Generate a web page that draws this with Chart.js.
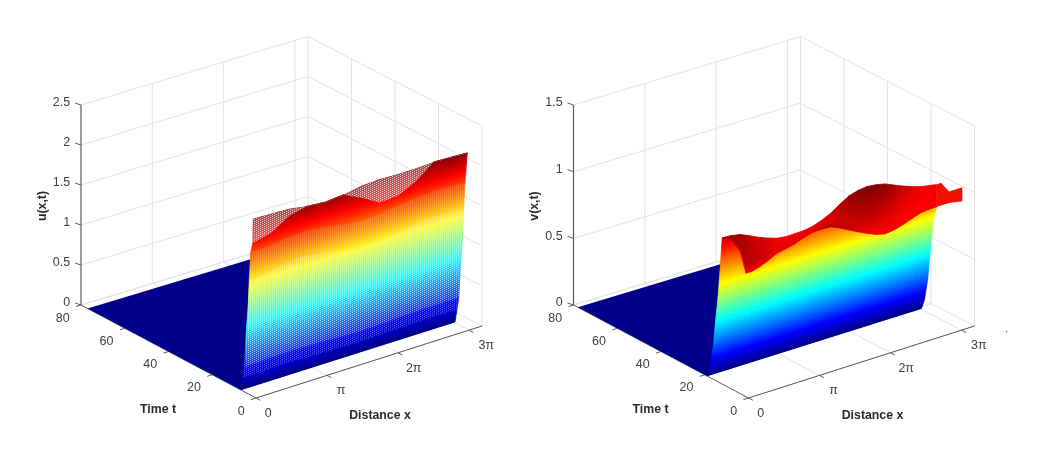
<!DOCTYPE html>
<html>
<head>
<meta charset="utf-8">
<style>
html,body{margin:0;padding:0;background:#fff;width:1040px;height:451px;overflow:hidden}
canvas{position:absolute;top:0}
#cu{left:0}
#cv{left:510px}
</style>
<script src="https://cdn.jsdelivr.net/npm/chart.js@4"></script>
</head>
<body>
<canvas id="cu" width="510" height="451"></canvas>
<canvas id="cv" width="530" height="451"></canvas>
<script>
// ---------- tick values and labels ----------
const xTickValues = [0, Math.PI, 2 * Math.PI, 3 * Math.PI];
const xTickLabels = ['0', 'π', '2π', '3π'];
const tTickValues = [0, 20, 40, 60, 80];
const uTickValues = [0, 0.5, 1, 1.5, 2, 2.5];
const uTickLabels = ['0', '0.5', '1', '1.5', '2', '2.5'];
const vTickValues = [0, 0.5, 1, 1.5];
const vTickLabels = ['0', '0.5', '1', '1.5'];

// ---------- u(x,t) ----------
const uX = [0, .8, 1.6, 2.4, 3.2, 4, 4.8, 5.6, 6.4, 7.2, 8, 8.8, 9.48];
const uT = [7, 6.1, 5.3, 4.6, 3.5, 3.07, 2.43, 1.4, 1.2];
const uRow0 = [0, 0, 0, 0, 0, 0, 0, 0, 0, 0, 0, 0, 0];
const uRow1 = [.16, .16, .17, .17, .16, .16, .15, .15, .16, .16, .17, .17, .17];
const uRow2 = [.31, .32, .33, .33, .32, .31, .30, .30, .31, .32, .33, .33, .33];
const uRow3 = [.70, .71, .73, .74, .72, .69, .67, .67, .69, .71, .72, .72, .71];
const uRow4 = [1.13, 1.15, 1.19, 1.21, 1.18, 1.12, 1.09, 1.10, 1.13, 1.16, 1.17, 1.17, 1.15];
const uRow5 = [1.43, 1.46, 1.50, 1.52, 1.49, 1.42, 1.39, 1.40, 1.43, 1.47, 1.49, 1.48, 1.46];
const uRow6 = [1.78, 1.79, 1.82, 1.83, 1.81, 1.76, 1.74, 1.75, 1.78, 1.80, 1.82, 1.81, 1.80];
const uRow7 = [1.92, 1.97, 2.11, 2.16, 2.14, 2.16, 2.05, 1.92, 1.93, 2.04, 2.21, 2.20, 2.19];
const uRow8 = [2.22, 2.21, 2.20, 2.16, 2.14, 2.16, 2.20, 2.21, 2.20, 2.20, 2.21, 2.20, 2.19];
const uFloorT = [7, 77];

// ---------- v(x,t) ----------
const vX = [0, .4, .8, 1.05, 1.3, 1.6, 2, 2.4, 2.8, 3.2, 3.6, 4, 4.4, 4.8, 5.2, 5.6, 6, 6.4, 6.8, 7.2, 7.6, 8, 8.4, 8.8, 9.1, 9.48];
const vT = [19, 18.4, 17.6, 16.1, 15, 14.25, 13.6];
const vWallLevels = [0, .03, .08, .245, .455, .573, .70];
const vCrestT = 12;
const vFront = [1.097, 1.058, .947, .776, .775, .788, .815, .849, .865, .878, .905, .924, .927, .922, .892, .855, .82, .787, .758, .740, .748, .768, .793, .815, .82, .821];
const vMid = [1.097, 1.066, .98, .847, .845, .845, .86, .878, .886, .897, .918, .935, .945, .948, .938, .919, .898, .875, .855, .84, .835, .84, .852, .864, .865, .862];
const vBack = [1.097, 1.092, 1.079, 1.06, 1.04, 1.015, .988, .965, .955, .956, .958, .969, .993, 1.025, 1.07, 1.111, 1.13, 1.139, 1.13, 1.115, 1.085, 1.056, 1.03, 1.01, 1.0, .988];
const vFrontShade = [.95, .93, .9, .88, .88, .88, .88, .88, .885, .89, .91, .93, .95, .96, .95, .93, .905, .88, .88, .88, .88, .88, .88, .88, .88, .88];
const vMidShade = [.95, .96, .96, .95, .94, .93, .915, .9, .9, .9, .9, .9, .91, .92, .925, .93, .93, .93, .915, .9, .89, .88, .88, .88, .88, .88];
const vBackShade = [.97, .97, .97, .95, .935, .92, .905, .89, .88, .88, .885, .89, .905, .92, .945, .97, .99, 1, .995, .99, .96, .93, .91, .89, .885, .88];
const vFlapT = [12, 10, 6.3, .2];
const vFlapLow = [.821, .848, .897, .962];
const vFlapHigh = [.988, 1.019, .984, 1.067];
const vFloorT = [19, 78];

// ---------- helpers ----------
function clamp01(a) { return Math.max(0, Math.min(1, a)); }
function jet(c) {
  const r = clamp01(Math.min(4 * c - 1.5, -4 * c + 4.5));
  const g = clamp01(Math.min(4 * c - .5, -4 * c + 3.5));
  const b = clamp01(Math.min(4 * c + .5, -4 * c + 2.5));
  return 'rgb(' + Math.round(r * 255) + ',' + Math.round(g * 255) + ',' + Math.round(b * 255) + ')';
}
function makeProjection(p) {
  return (x, t, z) => ({
    x: p.ox + p.ex * x + p.et * t + .00125 * x * t,
    y: p.oy + p.fx * x + p.ft * t + .0044 * x * t - p.ez * z
  });
}
function dotPattern(dot, wash) {
  const c = document.createElement('canvas');
  c.width = 4; c.height = 2;
  const g = c.getContext('2d');
  g.fillStyle = 'rgba(255,255,255,' + wash + ')';
  g.fillRect(0, 0, 4, 2);
  g.fillStyle = 'rgba(255,255,255,' + dot + ')';
  g.fillRect(0, 0, 1, 1);
  g.fillRect(2, 1, 1, 1);
  return g.createPattern(c, 'repeat');
}
function quadPaint(chart, q) {
  const sx = chart.scales.x, sy = chart.scales.y;
  const pxOf = (s, v) => { const p = s.getPixelForValue(v); return Number.isFinite(p) ? p : v; };
  const P = q.map(o => ({x: pxOf(sx, o.x), y: pxOf(sy, o.y), c: o.c}));
  const [a, b, c, d] = P;
  const ux = ((b.x - a.x) + (c.x - d.x)) / 2, uy = ((b.y - a.y) + (c.y - d.y)) / 2, uc = ((b.c - a.c) + (c.c - d.c)) / 2;
  const vx = ((d.x - a.x) + (c.x - b.x)) / 2, vy = ((d.y - a.y) + (c.y - b.y)) / 2, vc = ((d.c - a.c) + (c.c - b.c)) / 2;
  const det = ux * vy - uy * vx;
  const cs = P.map(o => o.c), lo = Math.min(...cs), hi = Math.max(...cs);
  const mid = cs.reduce((s, o) => s + o, 0) / 4;
  if (Math.abs(det) < 1e-3 || hi - lo < 1e-4) return jet(mid);
  const gx = (uc * vy - vc * uy) / det, gy = (ux * vc - vx * uc) / det, g2 = gx * gx + gy * gy;
  if (g2 < 1e-12) return jet(mid);
  const mx = (a.x + b.x + c.x + d.x) / 4, my = (a.y + b.y + c.y + d.y) / 4;
  const grad = chart.ctx.createLinearGradient(
    mx + gx * (lo - mid) / g2, my + gy * (lo - mid) / g2,
    mx + gx * (hi - mid) / g2, my + gy * (hi - mid) / g2);
  for (let k = 0; k <= 10; k++) grad.addColorStop(k / 10, jet(lo + (hi - lo) * k / 10));
  return grad;
}
function lineSet(pts, color, width) {
  return {data: pts, showLine: true, pointRadius: 0, borderColor: color, borderWidth: width, fill: false, tension: 0};
}
function polySet(pts, color) {
  return {data: [...pts, pts[0]], showLine: true, pointRadius: 0, borderWidth: 0, borderColor: 'rgba(0,0,0,0)', backgroundColor: color, fill: 'shape', tension: 0};
}
function quadSet(q) {
  const paint = c => quadPaint(c.chart, q);
  return {data: [...q, q[0]].map(o => ({x: o.x, y: o.y})), showLine: true, pointRadius: 0, borderWidth: .8, borderJoinStyle: 'round',
    borderColor: paint, backgroundColor: paint, fill: 'shape', tension: 0};
}
function frameSets(proj, zTicks) {
  const sets = [], grid = '#e3e3e3', axis = '#5a5a5a', zMax = zTicks[zTicks.length - 1], xEnd = 10, tEnd = 80;
  zTicks.forEach(z => {
    sets.push(lineSet([proj(0, tEnd, z), proj(xEnd, tEnd, z), proj(xEnd, 0, z)], grid, 1));
  });
  xTickValues.slice(1).forEach(x => {
    sets.push(lineSet([proj(x, 0, 0), proj(x, tEnd, 0), proj(x, tEnd, zMax)], grid, 1));
  });
  tTickValues.forEach(t => {
    sets.push(lineSet([proj(0, t, 0), proj(xEnd, t, 0), proj(xEnd, t, zMax)], grid, 1));
  });
  sets.push(lineSet([proj(0, tEnd, 0), proj(0, tEnd, zMax)], axis, 1.2));
  sets.push(lineSet([proj(0, tEnd, 0), proj(0, 0, 0), proj(xEnd, 0, 0)], axis, 1));
  zTicks.forEach(z => {
    const a = proj(0, tEnd, z);
    sets.push(lineSet([a, {x: a.x - 6, y: a.y - 2}], axis, 1));
  });
  tTickValues.forEach(t => {
    const a = proj(0, t, 0);
    sets.push(lineSet([a, {x: a.x - 5, y: a.y + 1.6}], axis, 1));
  });
  xTickValues.forEach(x => {
    const a = proj(x, 0, 0);
    sets.push(lineSet([a, {x: a.x + 4.4, y: a.y + 2.3}], axis, 1));
  });
  return sets;
}
function textPlugin(cfg) {
  return {
    id: 'texts',
    afterDraw(chart) {
      const ctx = chart.ctx, sx = chart.scales.x, sy = chart.scales.y, proj = cfg.proj;
      const put = (s, x, y) => ctx.fillText(s, sx.getPixelForValue(x), sy.getPixelForValue(y));
      ctx.save();
      ctx.fillStyle = '#404040';
      ctx.font = '12.5px "Liberation Sans", Arial, sans-serif';
      ctx.textBaseline = 'middle';
      ctx.textAlign = 'right';
      cfg.zTicks.forEach((z, i) => { const a = proj(0, 80, z); put(cfg.zLabels[i], a.x - 10.8, a.y - 2); });
      tTickValues.forEach(t => { const a = proj(0, t, 0); put(String(t), a.x - 11.3, a.y + 13.2); });
      ctx.textAlign = 'center';
      xTickValues.forEach((x, i) => { const a = proj(x, 0, 0); put(xTickLabels[i], a.x + 12.3 + i * 1.7, a.y + 15.6); });
      ctx.fillStyle = '#2a2a2a';
      ctx.font = 'bold 12.3px "Liberation Sans", Arial, sans-serif';
      const o = proj(0, 0, 0);
      put('Time t', o.x - 98, o.y + 12);
      put('Distance x', o.x + 124, o.y + 17.7);
      ctx.translate(sx.getPixelForValue(o.x - 213.7), sy.getPixelForValue(206));
      ctx.rotate(-Math.PI / 2);
      ctx.fillText(cfg.zTitle, 0, 0);
      ctx.restore();
    }
  };
}
function buildChart(id, width, sets, plugin) {
  return new Chart(document.getElementById(id), {
    type: 'scatter',
    data: {datasets: sets.slice().reverse()},
    options: {
      responsive: false, animation: false, devicePixelRatio: 1,
      layout: {padding: 0, autoPadding: false},
      events: [],
      plugins: {legend: {display: false}, tooltip: {enabled: false}, title: {display: false}},
      scales: {
        x: {type: 'linear', min: 0, max: width, display: false},
        y: {type: 'linear', min: 0, max: 451, reverse: true, display: false}
      }
    },
    plugins: [plugin]
  });
}

// ---------- left panel ----------
const uProj = makeProjection({ox: 256, oy: 398, ex: 22.6, fx: -7.2, et: -2.1875, ft: -1.1625, ez: 80});
const uColorMax = 2.22;
const uRows = [uRow0, uRow1, uRow2, uRow3, uRow4, uRow5, uRow6, uRow7, uRow8];
const uSets = frameSets(uProj, uTickValues);
uSets.push(polySet([uProj(0, uFloorT[0], 0), uProj(9.48, uFloorT[0], 0), uProj(9.48, uFloorT[1], 0), uProj(0, uFloorT[1], 0)], '#00008b'));
const uNode = (i, j) => ({...uProj(uX[i], uT[j], uRows[j][i]), c: uRows[j][i] / uColorMax});
for (let j = 0; j < uRows.length - 1; j++) {
  for (let i = 0; i < uX.length - 1; i++) {
    uSets.push(quadSet([uNode(i, j), uNode(i + 1, j), uNode(i + 1, j + 1), uNode(i, j + 1)]));
  }
}
function uBand(j0, j1, dot, wash) {
  const lower = uX.map((_, i) => uNode(i, j0)), upper = uX.map((_, i) => uNode(i, j1)).reverse();
  uSets.push(polySet([...lower, ...upper].map(o => ({x: o.x, y: o.y})), dotPattern(dot, wash)));
}
uBand(1, 2, .3, .03);
uBand(2, 3, .6, .1);
uBand(3, 5, .55, .1);
uBand(5, 6, .25, .03);
uBand(7, 8, .7, .3);
buildChart('cu', 510, uSets, textPlugin({proj: uProj, zTicks: uTickValues, zLabels: uTickLabels, zTitle: 'u(x,t)'}));

// ---------- right panel ----------
const vProj = makeProjection({ox: 238.5, oy: 398, ex: 22.6, fx: -7.2, et: -2.1875, ft: -1.1625, ez: 133.33});
const vColorMax = 1.18;
const vSets = frameSets(vProj, vTickValues);
vSets.push(polySet([vProj(0, vFloorT[0], 0), vProj(9.48, vFloorT[0], 0), vProj(9.48, vFloorT[1], 0), vProj(0, vFloorT[1], 0)], '#00008b'));
const vWallNode = (i, j) => {
  const z = j < vT.length ? vWallLevels[j] : vFront[i], t = j < vT.length ? vT[j] : vCrestT;
  return {...vProj(vX[i], t, z), c: z / vColorMax};
};
for (let j = 0; j < vT.length; j++) {
  for (let i = 0; i < vX.length - 1; i++) {
    vSets.push(quadSet([vWallNode(i, j), vWallNode(i + 1, j), vWallNode(i + 1, j + 1), vWallNode(i, j + 1)]));
  }
}
const vCapRows = [[vFront, vFrontShade], [vMid, vMidShade], [vBack, vBackShade]];
const vCapNode = (i, j) => ({...vProj(vX[i], vCrestT, vCapRows[j][0][i]), c: vCapRows[j][1][i]});
for (let j = 0; j < 2; j++) {
  for (let i = 0; i < vX.length - 1; i++) {
    vSets.push(quadSet([vCapNode(i, j), vCapNode(i + 1, j), vCapNode(i + 1, j + 1), vCapNode(i, j + 1)]));
  }
}
for (let k = 0; k < vFlapT.length - 1; k++) {
  vSets.push(polySet([
    vProj(9.48, vFlapT[k], vFlapLow[k]), vProj(9.48, vFlapT[k + 1], vFlapLow[k + 1]),
    vProj(9.48, vFlapT[k + 1], vFlapHigh[k + 1]), vProj(9.48, vFlapT[k], vFlapHigh[k])
  ], '#f01000'));
}
const speck = lineSet([{x: 496.7, y: 331.7}], '#555', 0);
speck.pointRadius = .7; speck.pointHoverRadius = 0; speck.pointBackgroundColor = '#555'; speck.pointBorderWidth = 0;
vSets.push(speck);
buildChart('cv', 530, vSets, textPlugin({proj: vProj, zTicks: vTickValues, zLabels: vTickLabels, zTitle: 'v(x,t)'}));
</script>
</body>
</html>
